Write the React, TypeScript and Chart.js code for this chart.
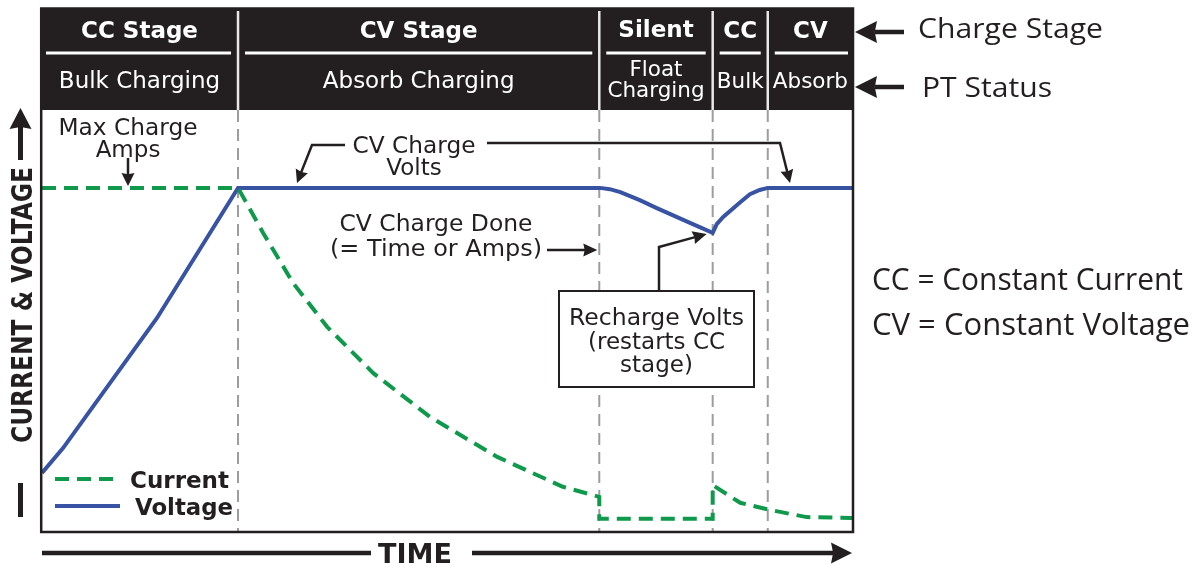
import React, { useEffect, useRef } from "react";
import { Chart, registerables } from "chart.js";
Chart.register(...registerables);

// ---- data (time in % of cycle, level in % of full scale) ----
const stageBounds = [0, 24.2, 68.8, 82.8, 89.6, 100];
const chargeStages = ["CC Stage", "CV Stage", "Silent", "CC", "CV"];
const ptStatus = [["Bulk Charging"], ["Absorb Charging"], ["Float", "Charging"], ["Bulk"], ["Absorb"]];

const voltageTime = [0, 2.6, 14.2, 24.2, 68.9, 70.1, 71.4, 73.8, 75.9, 80.0, 82.8, 83.3, 84.1, 86.2, 87.4, 88.6, 89.6, 100];
const voltageLevel = [13.8, 19.7, 50.6, 81.5, 81.5, 81.2, 80.5, 78.6, 76.7, 73.2, 70.8, 72.9, 74.6, 78.1, 80.0, 81.0, 81.5, 81.5];

const currentTime = [0, 24.2, 27.3, 31.0, 35.2, 40.9, 47.9, 56.2, 64.3, 68.8, 68.8, 82.8, 82.8, 86.2, 89.9, 94.4, 100];
const currentLevel = [81.5, 81.5, 70.8, 58.9, 48.5, 37.5, 27.1, 17.6, 10.5, 8.1, 2.9, 2.9, 10.9, 6.7, 5.0, 3.3, 3.1];

const seriesNames = ["Current", "Voltage"];

const INK = "#231f20";
const GREEN = "#0e9a4a";
const BLUE = "#3853a4";
const SANS = "'DejaVu Sans'";
const SIDE = "'Open Sans'";

function text(ctx: CanvasRenderingContext2D, s: string, x: number, y: number, font: string, color: string, fitW?: number, align: CanvasTextAlign = "center", rot = 0) {
  ctx.save();
  ctx.font = font;
  ctx.fillStyle = color;
  ctx.textAlign = align;
  ctx.textBaseline = "alphabetic";
  ctx.translate(x, y);
  if (rot) ctx.rotate(rot);
  if (fitW) {
    const w = ctx.measureText(s).width;
    ctx.scale(fitW / w, 1);
  }
  ctx.fillText(s, 0, 0);
  ctx.restore();
}

function arrow(ctx: CanvasRenderingContext2D, pts: number[][], lw: number, hl: number, hw: number, color = INK) {
  const n = pts.length;
  const [tx, ty] = pts[n - 1];
  const [px, py] = pts[n - 2];
  const ang = Math.atan2(ty - py, tx - px);
  const c = Math.cos(ang), s = Math.sin(ang);
  const bx = tx - hl * c, by = ty - hl * s;
  ctx.save();
  ctx.strokeStyle = color;
  ctx.fillStyle = color;
  ctx.lineWidth = lw;
  ctx.lineJoin = "miter";
  ctx.setLineDash([]);
  ctx.beginPath();
  ctx.moveTo(pts[0][0], pts[0][1]);
  for (let i = 1; i < n - 1; i++) ctx.lineTo(pts[i][0], pts[i][1]);
  ctx.lineTo(bx + c * 2, by + s * 2);
  ctx.stroke();
  ctx.beginPath();
  ctx.moveTo(tx, ty);
  ctx.lineTo(bx + hw * s, by - hw * c);
  ctx.lineTo(bx + hl * 0.1 * c, by + hl * 0.1 * s);
  ctx.lineTo(bx - hw * s, by + hw * c);
  ctx.closePath();
  ctx.fill();
  ctx.restore();
}

function line(ctx: CanvasRenderingContext2D, x1: number, y1: number, x2: number, y2: number, lw: number, color: string, dash: number[] = []) {
  ctx.save();
  ctx.strokeStyle = color;
  ctx.lineWidth = lw;
  ctx.setLineDash(dash);
  ctx.beginPath();
  ctx.moveTo(x1, y1);
  ctx.lineTo(x2, y2);
  ctx.stroke();
  ctx.restore();
}

const diagramPlugin = {
  id: "diagram",
  beforeDatasetsDraw(chart: any) {
    const ctx: CanvasRenderingContext2D = chart.ctx;
    const { top, bottom, left, right } = chart.chartArea;
    const xs = chart.scales.x;
    const bx = stageBounds.map((b, i) => (i === 0 ? left - 1 : i === stageBounds.length - 1 ? right + 1 : xs.getPixelForValue(b)));

    // header band
    ctx.save();
    ctx.fillStyle = INK;
    ctx.fillRect(left - 1, 8, right - left + 2, top - 8);
    ctx.restore();
    for (let i = 1; i < bx.length - 1; i++) line(ctx, bx[i], 11, bx[i], top, 2.5, "#e8e8e8");
    for (let i = 0; i < bx.length - 1; i++) {
      const insetL = i === 0 ? 5 : 7;
      const insetR = i === bx.length - 2 ? 5 : 7;
      line(ctx, bx[i] + insetL, 53, bx[i + 1] - insetR, 53, 3, "#ffffff");
      const cx = (bx[i] + bx[i + 1]) / 2;
      text(ctx, chargeStages[i], cx, i === 2 ? 37 : 38, `bold 23px ${SANS}`, "#ffffff");
      const st = ptStatus[i];
      const sz = i < 2 ? 23 : 21.5;
      if (st.length === 1) text(ctx, st[0], cx, 88, `${sz}px ${SANS}`, "#ffffff");
      else {
        text(ctx, st[0], cx, 76, `${sz}px ${SANS}`, "#ffffff");
        text(ctx, st[1], cx, 97, `${sz}px ${SANS}`, "#ffffff");
      }
    }

    // stage dividers in plot area
    for (let i = 1; i < bx.length - 1; i++) line(ctx, bx[i], top, bx[i], bottom, 2, "#9d9d9d", [12, 7]);
  },
  afterDatasetsDraw(chart: any) {
    const ctx: CanvasRenderingContext2D = chart.ctx;
    const { bottom, left, right } = chart.chartArea;
    const xs = chart.scales.x;
    const ys = chart.scales.y;
    const f = `23px ${SANS}`;
    const yMax = ys.getPixelForValue(currentLevel[0]);
    const yCV = ys.getPixelForValue(voltageLevel[4]);

    // Max Charge Amps
    text(ctx, "Max Charge", 128, 135, f, INK, 139);
    text(ctx, "Amps", 128, 157, f, INK);
    arrow(ctx, [[128, 158], [128, yMax - 2]], 2.5, 13, 6.5);

    // CV Charge Volts
    text(ctx, "CV Charge", 414, 153, f, INK, 123);
    text(ctx, "Volts", 414, 175, f, INK);
    arrow(ctx, [[345, 145], [312, 145], [297, yCV - 5]], 2.5, 13, 6.5);
    arrow(ctx, [[487, 143], [780, 143], [790, yCV - 5]], 2.5, 13, 6.5);

    // CV Charge Done
    text(ctx, "CV Charge Done", 436, 231, f, INK, 193);
    text(ctx, "(= Time or Amps)", 436, 256, f, INK, 212);
    arrow(ctx, [[547, 250], [xs.getPixelForValue(stageBounds[2]) - 2, 250]], 2.5, 14, 6.5);

    // Recharge box
    ctx.save();
    ctx.fillStyle = "#ffffff";
    ctx.fillRect(559, 291, 195, 96);
    ctx.strokeStyle = INK;
    ctx.lineWidth = 2;
    ctx.strokeRect(559, 291, 195, 96);
    ctx.restore();
    text(ctx, "Recharge Volts", 656.5, 325, f, INK, 175);
    text(ctx, "(restarts CC", 656.5, 349, f, INK);
    text(ctx, "stage)", 656.5, 372, f, INK);
    const dipX = xs.getPixelForValue(voltageTime[10]);
    const dipY = ys.getPixelForValue(voltageLevel[10]);
    arrow(ctx, [[659, 291], [659, 247], [dipX - 6, dipY + 1]], 2.5, 14, 6.5);

    // legend
    line(ctx, 55, 479, 120, 479, 4, GREEN, [14, 8]);
    text(ctx, seriesNames[0], 130, 487.5, `bold 23px ${SANS}`, INK, 99, "left");
    line(ctx, 55, 506, 120, 506, 4, BLUE);
    text(ctx, seriesNames[1], 135, 514.5, `bold 23px ${SANS}`, INK, 98, "left");

    // frame
    ctx.save();
    ctx.strokeStyle = INK;
    ctx.lineWidth = 2.5;
    ctx.setLineDash([]);
    ctx.strokeRect(left - 0.8, 8.5, right - left + 1.8, bottom - 8.5 + 1);
    ctx.restore();

    // y axis title
    line(ctx, 20.5, 483, 20.5, 517, 5, INK);
    arrow(ctx, [[20.5, 160], [20.5, 108]], 5, 21, 11);
    text(ctx, "CURRENT & VOLTAGE", 32, 305, `bold 29px ${SANS}`, INK, 276, "center", -Math.PI / 2);

    // x axis title
    line(ctx, left, 553, 371, 553, 4.5, INK);
    arrow(ctx, [[472, 553], [right, 553]], 4.5, 21, 10.5);
    text(ctx, "TIME", 415, 563, `bold 27px ${SANS}`, INK, 74);

    // right side labels
    arrow(ctx, [[904, 32], [855, 32]], 4.5, 22, 11);
    arrow(ctx, [[904, 87], [855, 87]], 4.5, 22, 11);
    text(ctx, "Charge Stage", 918, 38, `28px ${SIDE}`, INK, 185, "left");
    text(ctx, "PT Status", 922, 97, `28px ${SIDE}`, INK, 130, "left");
    text(ctx, "CC = Constant Current", 872, 290, `31px ${SIDE}`, INK, 311, "left");
    text(ctx, "CV = Constant Voltage", 872, 335, `31px ${SIDE}`, INK, 318, "left");
  },
};

export default function App() {
  const ref = useRef<HTMLCanvasElement | null>(null);
  useEffect(() => {
    if (!ref.current) return;
    const chart = new Chart(ref.current, {
      type: "line",
      data: {
        datasets: [
          {
            label: seriesNames[0],
            data: currentTime.map((t, i) => ({ x: t, y: currentLevel[i] })),
            borderColor: GREEN,
            borderWidth: 4,
            borderDash: [14, 8],
            pointRadius: 0,
            tension: 0,
            fill: false,
          },
          {
            label: seriesNames[1],
            data: voltageTime.map((t, i) => ({ x: t, y: voltageLevel[i] })),
            borderColor: BLUE,
            borderWidth: 4,
            pointRadius: 0,
            tension: 0,
            fill: false,
          },
        ],
      },
      options: {
        animation: false,
        responsive: false,
        maintainAspectRatio: false,
        layout: { padding: { left: 42, top: 110, right: 1194 - 852, bottom: 565 - 531 } },
        plugins: { legend: { display: false }, tooltip: { enabled: false }, title: { display: false } },
        scales: {
          x: { type: "linear", min: 0, max: 100, display: false },
          y: { type: "linear", min: 0, max: 100, display: false },
        },
        events: [],
      },
      plugins: [diagramPlugin],
    });
    return () => chart.destroy();
  }, []);
  return (
    <div style={{ position: "absolute", left: 0, top: 0, width: 1194, height: 565, background: "#ffffff" }}>
      <canvas ref={ref} width={1194} height={565} style={{ display: "block", width: 1194, height: 565 }} />
    </div>
  );
}
